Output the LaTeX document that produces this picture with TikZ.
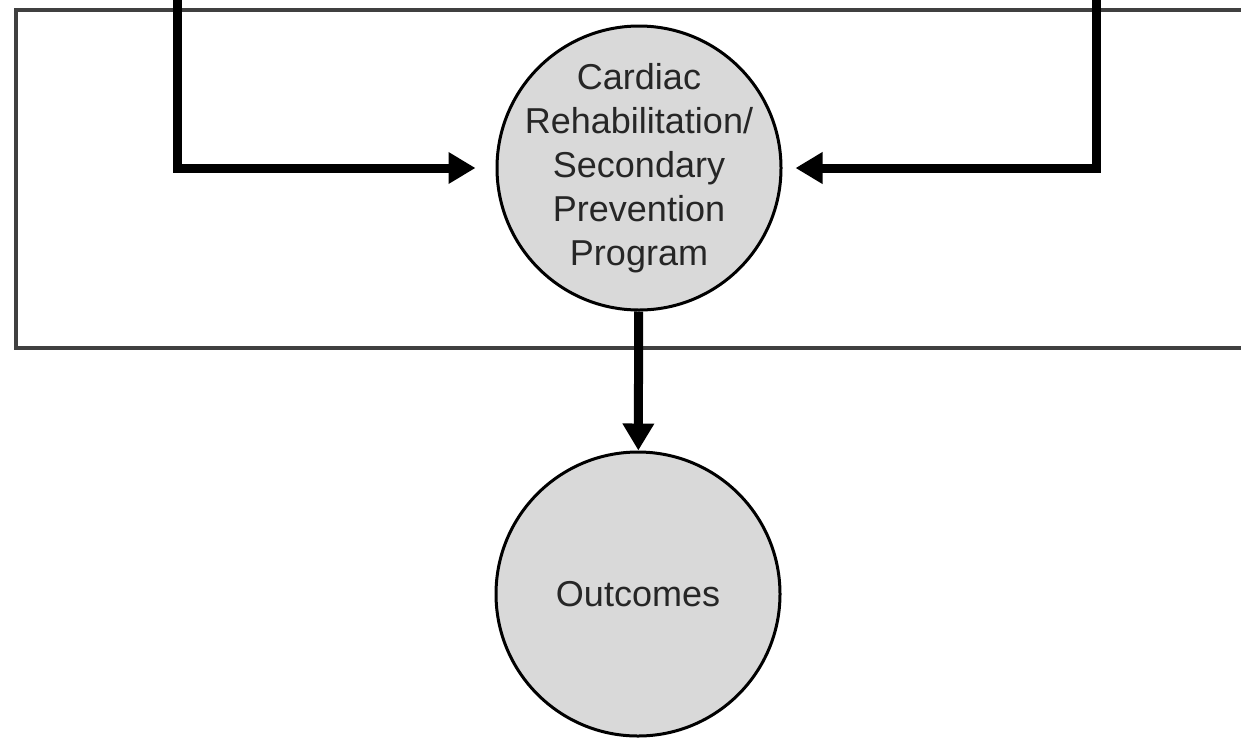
\documentclass[tikz,border=0pt]{standalone}
\usepackage{fontspec}
\setmainfont{Liberation Sans}
\usetikzlibrary{arrows.meta}
\tikzstyle{stage}=[circle, draw=black, line width=3pt, fill=black!15, minimum size=284pt,
  inner sep=0pt, align=center, text=black!85, font=\fontsize{36}{44}\selectfont]
\tikzstyle{flow}=[line width=9pt, -{Triangle[length=27pt, width=30pt]}]

\begin{document}
\begin{tikzpicture}[x=1pt, y=-1pt]
    \useasboundingbox (0,0) rectangle (1241,737);
% Frame
    \draw[line width=4pt, black!75] (1270,9.5) -- (16,9.5) -- (16,348) -- (1270,348);
% Stages
    \node[stage, inner sep=-20pt] (rehab) at (639,168) {Cardiac\\Rehabilitation/\\Secondary\\Prevention\\Program};
    \node[stage] (outcomes) at (638,594) {Outcomes};
% Inputs from above
    \coordinate (leftin) at (177,-10);
    \coordinate (rightin) at (1096,-10);
    \draw[flow, shorten >=20pt] (leftin) |- (rehab.west);
    \draw[flow, shorten >=13pt] (rightin) |- (rehab.east);
    \draw[flow] (rehab) -- (outcomes);
\end{tikzpicture}
\end{document}
